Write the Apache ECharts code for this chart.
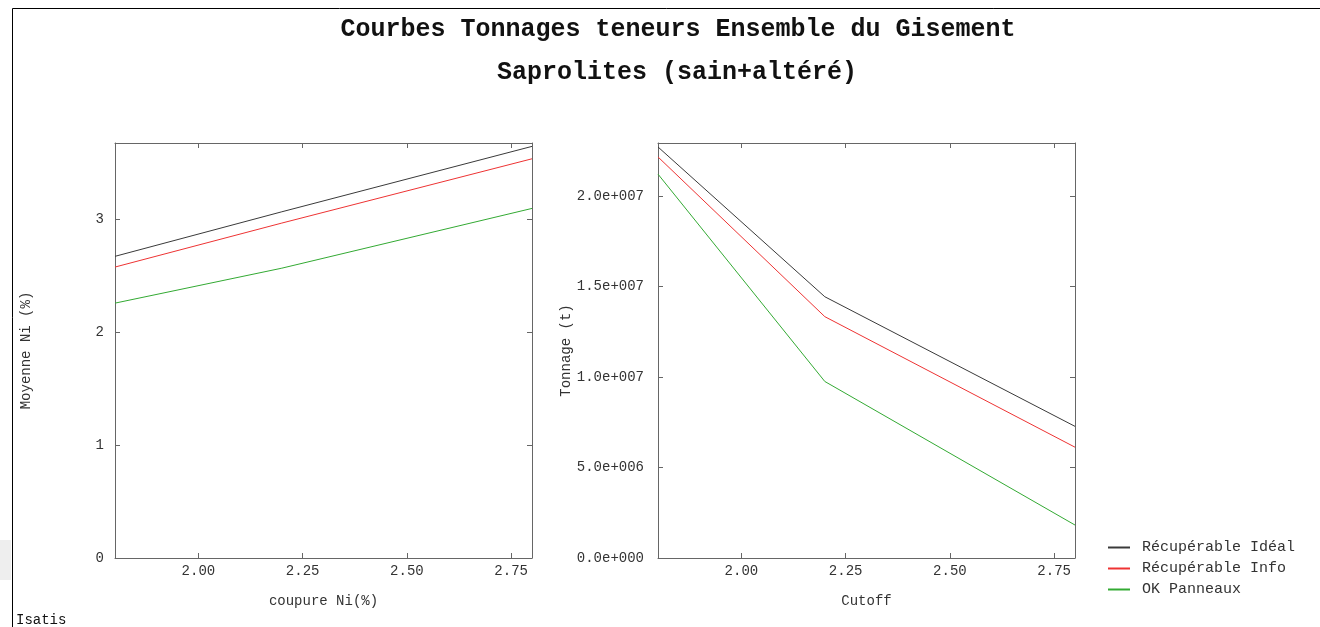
<!DOCTYPE html>
<html>
<head>
<meta charset="utf-8">
<script src="https://cdn.jsdelivr.net/npm/echarts@6/dist/echarts.min.js"></script>
<style>html,body{margin:0;padding:0;background:#fff}#c{width:1320px;height:627px}</style>
</head>
<body>
<div id="c"></div>
<script>
// ---- data ----
const cutoffs = [1.8, 2.2, 2.8];
const seriesNames = ['Récupérable Idéal', 'Récupérable Info', 'OK Panneaux'];
const meanIdeal = [2.675, 3.07, 3.65];
const meanInfo = [2.58, 2.97, 3.54];
const meanOK = [2.26, 2.57, 3.10];
const tonIdeal = [22.7e6, 14.43e6, 7.27e6];
const tonInfo = [22.15e6, 13.33e6, 6.12e6];
const tonOK = [21.2e6, 9.75e6, 1.82e6];
const xTicks = [2.00, 2.25, 2.50, 2.75];
const meanTicks = [0, 1, 2, 3];
const tonTicks = [0, 5e6, 1e7, 1.5e7, 2e7];

const colors = ['#3a3a3a', '#ee3333', '#33aa33'];
const FONT = '"Liberation Mono", "DejaVu Sans Mono", monospace';
const axisColor = '#666';
const textColor = '#333';

function expFmt(v) {
  if (v === 0) return '0.0e+000';
  const e = Math.floor(Math.log10(Math.abs(v)) + 1e-9);
  const m = v / Math.pow(10, e);
  return m.toFixed(1) + 'e+' + String(e).padStart(3, '0');
}
function pairs(xs, ys) { return xs.map((x, i) => [x, ys[i]]); }

const grids = [
  {left: 115, top: 143, width: 417, height: 415},
  {left: 658, top: 143, width: 417, height: 415}
];

function xAx(gi, pos, name) {
  return {
    type: 'value', gridIndex: gi, position: pos, min: 1.8, max: 2.8,
    name: name, nameLocation: 'middle', nameGap: 36,
    nameTextStyle: {fontFamily: FONT, fontSize: 14, color: textColor},
    axisLine: {show: true, onZero: false, lineStyle: {color: axisColor, width: 1}},
    axisTick: {show: true, inside: true, length: 5, customValues: xTicks, lineStyle: {color: axisColor}},
    axisLabel: {show: pos === 'bottom', customValues: xTicks, margin: 6, fontFamily: FONT, fontSize: 14, color: textColor,
      formatter: v => v.toFixed(2)},
    splitLine: {show: false}
  };
}
function yAx(gi, pos, name, max, ticks, fmt, gap, margin) {
  return {
    type: 'value', gridIndex: gi, position: pos, min: 0, max: max,
    name: name, nameLocation: 'middle', nameGap: gap, nameRotate: 90,
    nameTextStyle: {fontFamily: FONT, fontSize: 14, color: textColor},
    axisLine: {show: true, onZero: false, lineStyle: {color: axisColor, width: 1}},
    axisTick: {show: true, inside: true, length: 5, customValues: ticks, lineStyle: {color: axisColor}},
    axisLabel: {show: pos === 'left', customValues: ticks, margin: margin, fontFamily: FONT, fontSize: 14, color: textColor,
      formatter: fmt},
    splitLine: {show: false}
  };
}

const meanData = [meanIdeal, meanInfo, meanOK];
const tonData = [tonIdeal, tonInfo, tonOK];
const series = [];
for (let i = 0; i < 3; i++) {
  series.push({type: 'line', name: seriesNames[i], xAxisIndex: 0, yAxisIndex: 0, data: pairs(cutoffs, meanData[i]),
    showSymbol: false, symbol: 'none', lineStyle: {width: 1, color: colors[i]}, itemStyle: {color: colors[i]}});
  series.push({type: 'line', name: seriesNames[i], xAxisIndex: 2, yAxisIndex: 2, data: pairs(cutoffs, tonData[i]),
    showSymbol: false, symbol: 'none', lineStyle: {width: 1, color: colors[i]}, itemStyle: {color: colors[i]}});
}

const chart = echarts.init(document.getElementById('c'), null, {renderer: 'canvas'});
chart.setOption({
  animation: false,
  backgroundColor: '#fff',
  title: [
    {text: 'Courbes Tonnages teneurs Ensemble du Gisement', left: 673, top: 12, textAlign: 'center',
      textStyle: {fontFamily: FONT, fontSize: 25, fontWeight: 'bold', color: '#111'}},
    {text: 'Saprolites (sain+altéré)', left: 672, top: 55, textAlign: 'center',
      textStyle: {fontFamily: FONT, fontSize: 25, fontWeight: 'bold', color: '#111'}}
  ],
  grid: grids,
  xAxis: [
    xAx(0, 'bottom', 'coupure Ni(%)'), xAx(0, 'top', ''),
    xAx(1, 'bottom', 'Cutoff'), xAx(1, 'top', '')
  ],
  yAxis: [
    yAx(0, 'left', 'Moyenne Ni (%)', 3.68, meanTicks, v => String(v), 82, 11),
    yAx(0, 'right', '', 3.68, meanTicks, v => String(v), 82, 11),
    yAx(1, 'left', 'Tonnage (t)', 2.292e7, tonTicks, expFmt, 83, 14),
    yAx(1, 'right', '', 2.292e7, tonTicks, expFmt, 83, 14)
  ],
  legend: {
    orient: 'vertical', left: 1108, top: 540, padding: 0, itemGap: 6, itemWidth: 22, itemHeight: 2,
    icon: 'rect', data: seriesNames,
    textStyle: {fontFamily: FONT, fontSize: 15, color: textColor, padding: [0, 0, 0, 7]}
  },
  graphic: [
    {type: 'rect', shape: {x: 0, y: 540, width: 11, height: 40}, style: {fill: '#eeeeee'}, silent: true},
    {type: 'line', shape: {x1: 12.5, y1: 8.5, x2: 1320, y2: 8.5}, style: {stroke: '#000', lineWidth: 1}, silent: true},
    {type: 'line', shape: {x1: 12.5, y1: 8.5, x2: 12.5, y2: 627}, style: {stroke: '#000', lineWidth: 1}, silent: true},
    {type: 'text', left: 16, top: 613, style: {text: 'Isatis', font: '14px ' + FONT, fill: '#111'}, silent: true}
  ],
  series: series
});
</script>
</body>
</html>
